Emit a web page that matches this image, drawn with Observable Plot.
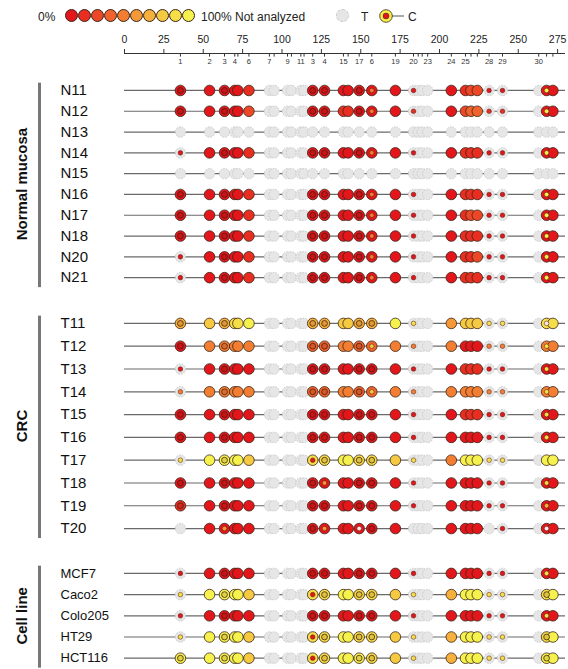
<!DOCTYPE html>
<html>
<head>
<meta charset="utf-8">
<script src="https://cdn.jsdelivr.net/npm/d3@7"></script>
<script src="https://cdn.jsdelivr.net/npm/@observablehq/plot@0.6"></script>
<style>
  body { margin: 0; background: #fff; font-family: "Liberation Sans", Arial, sans-serif; color: #222; }
  #legend { position: relative; width: 568px; height: 30px; }
  #legend .lab { position: absolute; top: 10px; font-size: 12px; line-height: 14px; }
  #legend .sw { position: absolute; top: 9px; width: 13px; height: 13px; border-radius: 50%; border: 0.8px solid #3a2418; box-sizing: border-box; }
  #legend .na { position: absolute; top: 9px; width: 13px; height: 13px; border-radius: 50%; background: #e6e6e6; border: 1px dashed #c9c9c9; box-sizing: border-box; }
  #legend svg { position: absolute; top: 7px; }
  #header, #body { display: block; }
</style>
</head>
<body>
<div id="legend"></div>
<div id="header"></div>
<div id="body"></div>
<script>
// CpG site positions (bp along the amplicon) and their printed labels
const sitePos = [35.5, 54, 63.5, 70, 72, 79, 92, 95, 103.5, 106, 112, 114, 119.5, 127,
  139, 142, 149, 157, 172, 183.5, 186.5, 189, 192.5, 207.5, 216.5, 220, 224, 231.5, 240, 263, 268, 272];
const siteLabels = ["1","2","3","4","","6","7","","9","","11","","3","4","15","","17","6","19","20",
  "","","23","24","25","","","28","29","30","",""];
const majorTicks = [0, 25, 50, 75, 100, 125, 150, 175, 200, 225, 250, 275];

// Sample groups
const groupNames = ["Normal mucosa", "CRC", "Cell line"];
const normalRows = ["N11","N12","N13","N14","N15","N16","N17","N18","N20","N21"];
const crcRows = ["T11","T12","T13","T14","T15","T16","T17","T18","T19","T20"];
const cellRows = ["MCF7","Caco2","Colo205","HT29","HCT116"];

// Methylation level per site: 0 (0%) .. 9 (100%), "-" = not analyzed
// Inner marker per site: digit = allele dot of that level, "o" = ring, "w" = pale dot, "." = none
const normalOuter = [
  "0 0 0 00 1 -- ---- 0 0 00 0 0 0 - --- 0 122 - - - 0 0",
  "0 0 0 00 2 -- ---- 0 0 11 0 0 0 - --- 0 233 - - - 0 0",
  "- - - -- - -- ---- - - -- - - - - --- - --- - - - - -",
  "- 0 0 00 1 -- ---- 0 0 00 0 0 0 - --- 0 111 - - - 0 0",
  "- - - -- - -- ---- - - -- - - - - --- - --- - - - - -",
  "0 0 0 00 1 -- ---- 0 0 00 0 0 0 - --- 0 111 - - - 0 0",
  "0 0 0 00 1 -- ---- 0 0 00 0 0 0 - --- 0 122 - - - 0 0",
  "0 0 0 00 1 -- ---- 0 0 00 0 0 0 - --- 0 111 - - - 0 0",
  "- 0 0 00 1 -- ---- 0 0 00 0 0 0 - --- 0 112 - - - 0 0",
  "- 0 0 00 1 -- ---- 0 0 00 0 0 0 - --- 0 111 - - - 0 0"
];
const normalInner = [
  "o . o .. . .. .... o o .. o 4 . 0 ... . ... 0 0 . 9 .",
  "o . o .. . .. .... o o .. o 4 . 1 ... . ... 1 1 . 9 .",
  ". . . .. . .. .... . . .. . . . . ... . ... . . . . .",
  "0 . o .. . .. .... o o .. o 4 . 0 ... . ... 0 0 . 9 .",
  ". . . .. . .. .... . . .. . . . . ... . ... . . . . .",
  "o . o .. . .. .... o o .. o 4 . 0 ... . ... 0 0 . 9 .",
  "o . o .. . .. .... o o .. o 4 . 0 ... . ... 0 0 . 9 .",
  "o . o .. . .. .... o o .. o 4 . 0 ... . ... 0 0 . 9 .",
  "0 . o .. . .. .... o o .. o 4 . 0 ... . ... 0 0 . 9 .",
  "0 . o .. . .. .... o o .. o 4 . 0 ... . ... 0 0 . 9 ."
];
const crcOuter = [
  "6 7 6 88 9 -- ---- 6 6 77 6 6 9 - --- 5 777 - - - 8 8",
  "0 4 4 44 4 -- ---- 3 3 44 3 3 4 - --- 4 000 - - - 4 4",
  "- 0 0 00 0 -- ---- 0 0 00 0 0 0 - --- 0 111 - - - 0 0",
  "- 4 4 44 4 -- ---- 3 3 44 3 3 4 - --- 4 444 - - - 4 4",
  "0 0 0 00 0 -- ---- 0 0 00 0 0 0 - --- 0 111 - - - 0 0",
  "0 0 0 00 0 -- ---- 0 0 00 0 0 0 - --- 0 000 - - - 0 0",
  "- 9 9 99 7 -- ---- 8 8 99 8 8 7 - --- 4 999 - - - 9 9",
  "0 0 0 00 0 -- ---- 0 0 00 0 0 0 - --- 0 000 - - - 0 0",
  "1 0 0 00 0 -- ---- 0 0 00 0 0 0 - --- 0 000 - - - 0 0",
  "- 0 0 00 0 -- ---- 0 0 00 0 0 0 - --- 0 000 - - - 0 0"
];
const crcInner = [
  "o . o .. . .. .... o o .. o o . 8 ... . ... 8 8 . w .",
  "o . o .. . .. .... o o .. o 7 . 4 ... . ... 4 4 . 8 .",
  "0 . o .. . .. .... o o .. o o . 0 ... . ... 0 0 . 8 .",
  "4 . o .. . .. .... o o .. o 7 . 4 ... . ... 4 4 . 8 .",
  "o . o .. . .. .... o o .. o o . 0 ... . ... 0 0 . 8 .",
  "o . o .. . .. .... o o .. o o . 0 ... . ... 0 0 . 8 .",
  "8 . o .. . .. .... 0 o .. o o . 8 ... . ... 8 8 . . .",
  "o . o .. . .. .... o 5 .. o o . 0 ... . ... 0 0 . 8 .",
  "o . o .. . .. .... o o .. o o . 0 ... . ... 0 0 . 6 .",
  ". . 5 .. . .. .... o 5 .. w o . . ... . ... . 0 . w ."
];
const cellOuter = [
  "- 0 0 00 0 -- ---- 0 0 00 0 0 0 - --- 0 000 - - - 0 0",
  "- 9 9 99 7 -- ---- 8 8 99 8 8 7 - --- 6 999 - - - 8 9",
  "- 0 0 00 0 -- ---- 0 0 00 0 0 0 - --- 0 000 - - - 0 0",
  "- 9 9 99 7 -- ---- 8 8 99 8 8 7 - --- 6 999 - - - 8 9",
  "9 9 9 99 7 -- ---- 8 8 99 9 8 7 - --- 6 999 - - - 9 9"
];
const cellInner = [
  "0 . o .. . .. .... o o .. o o . 0 ... . ... 0 0 . 8 .",
  "8 . o .. . .. .... 0 o .. o o . 8 ... . ... 8 8 . o .",
  "0 . o .. . .. .... o o .. o o . 0 ... . ... 0 0 . 8 .",
  "8 . o .. . .. .... 0 o .. o o . 8 ... . ... 8 8 . o .",
  "o . o .. . .. .... 0 o .. o o . 8 ... . ... 8 8 . o ."
];

// Vertical layout of the three groups, in row units
const groupStart = [0, 11.2, 23.22];
const groupPitch = [1, 1.096, 1.019];
const labelSize = [15, 15, 13];

const palette = d3.interpolateRgbBasis(["#e3161c", "#ea3a24", "#f0632c", "#f48b34", "#f6b23c", "#f5d545", "#f5f24d"]);
const levelColor = (l) => palette(l / 9);

// ---- legend ----
const legend = document.getElementById("legend");
function add(html) { legend.insertAdjacentHTML("beforeend", html); }
add(`<span class="lab" style="left:38px">0%</span>`);
for (let i = 0; i < 10; ++i) add(`<span class="sw" style="left:${65 + i * 13}px;background:${levelColor(i)}"></span>`);
add(`<span class="lab" style="left:201px">100% Not analyzed</span>`);
add(`<span class="na" style="left:336px"></span>`);
add(`<span class="lab" style="left:361px">T</span>`);
add(`<svg width="30" height="18" style="left:378px"><line x1="8" y1="9" x2="26" y2="9" stroke="#555" stroke-width="1"/><circle cx="8" cy="9" r="6.3" fill="${levelColor(9)}" stroke="#3a2418" stroke-width="0.8"/><circle cx="8" cy="9" r="3" fill="${levelColor(0)}" stroke="#3a2418" stroke-width="0.5"/></svg>`);
add(`<span class="lab" style="left:408px">C</span>`);

// ---- build tables ----
const groups = [
  {name: groupNames[0], rows: normalRows, outer: normalOuter, inner: normalInner},
  {name: groupNames[1], rows: crcRows, outer: crcOuter, inner: crcInner},
  {name: groupNames[2], rows: cellRows, outer: cellOuter, inner: cellInner}
];
const rows = [];
const circles = [];
const inners = [];
groups.forEach((g, gi) => {
  g.rows.forEach((name, i) => {
    const y = groupStart[gi] + i * groupPitch[gi];
    rows.push({name, y, size: labelSize[gi]});
    const o = g.outer[i].replace(/ /g, "");
    const n = g.inner[i].replace(/ /g, "");
    sitePos.forEach((pos, s) => {
      const code = o[s];
      const na = code === "-";
      const fill = na ? "#e6e6e6" : levelColor(+code);
      circles.push({pos, y, na, fill});
      const ic = n[s];
      if (ic === ".") return;
      if (ic === "o") inners.push({pos, y, kind: "ring", fill: d3.color(fill).darker(0.35).formatHex()});
      else if (ic === "w") inners.push({pos, y, kind: "dot", fill: "#fbe6ea"});
      else inners.push({pos, y, kind: "dot", fill: levelColor(+ic)});
    });
  });
});
const groupSpans = groups.map((g, gi) => {
  const first = groupStart[gi];
  const last = groupStart[gi] + (g.rows.length - 1) * groupPitch[gi];
  return {name: g.name, y1: first - 0.35, y2: last + 0.48, mid: (first + last) / 2};
});
const sites = sitePos.map((pos, i) => ({pos, label: siteLabels[i]}));

const xOpts = {domain: [0, 280]};

// ---- position axis with CpG ticks ----
const header = Plot.plot({
  width: 568, height: 40, marginLeft: 124, marginRight: 3, marginTop: 23, marginBottom: 9,
  x: {...xOpts, axis: null, label: null}, y: {domain: [0, 1], axis: null},
  style: {fontFamily: "Liberation Sans, Arial, sans-serif", color: "#222"},
  marks: [
    Plot.axisX({anchor: "top", ticks: majorTicks, tickSize: 5, tickPadding: 6, fontSize: 10.5, stroke: "#333", label: null}),
    Plot.ruleY([1], {x1: 0, x2: 280, stroke: "#333", strokeWidth: 1}),
    Plot.ruleX(sites, {x: "pos", y1: 1, y2: 0.55, stroke: "#333"}),
    Plot.text(sites, {x: "pos", y: 0, text: "label", fontSize: 7.5, fill: "#333"})
  ]
});
document.getElementById("header").append(header);

// ---- methylation rows ----
const body = Plot.plot({
  width: 568, height: 599, marginLeft: 124, marginRight: 3, marginTop: 0, marginBottom: 0,
  x: {...xOpts, axis: null},
  y: {domain: [-0.96, 27.84], range: [0, 599], axis: null},
  color: {type: "identity"},
  style: {fontFamily: "Liberation Sans, Arial, sans-serif", color: "#111"},
  marks: [
    Plot.ruleY(rows, {y: "y", x1: 0, x2: 280, stroke: "#6a6a6a", strokeWidth: 1.2}),
    Plot.dot(circles.filter(d => d.na), {x: "pos", y: "y", r: 5.2, fill: "#e6e6e6", stroke: "#c6c6c6", strokeWidth: 0.9, strokeDasharray: "1.6,1.2"}),
    Plot.dot(circles.filter(d => !d.na), {x: "pos", y: "y", r: 5.3, fill: "fill", stroke: "#3a2418", strokeWidth: 0.8}),
    Plot.dot(inners.filter(d => d.kind === "ring"), {x: "pos", y: "y", r: 2.9, fill: "fill", stroke: "#4a1a10", strokeWidth: 0.9, strokeOpacity: 0.85}),
    Plot.dot(inners.filter(d => d.kind === "dot"), {x: "pos", y: "y", r: 2.3, fill: "fill", stroke: "#4a1a10", strokeWidth: 0.5}),
    Plot.text(rows, {x: () => 0, y: "y", text: "name", fontSize: "size", dx: -64, textAnchor: "start", fill: "#111"}),
    Plot.ruleX(groupSpans, {x: () => 0, y1: "y1", y2: "y2", dx: -85, stroke: "#777", strokeWidth: 3}),
    Plot.text(groupSpans, {x: () => 0, y: "mid", text: "name", rotate: -90, dx: -102, fontSize: 15, fontWeight: "bold", fill: "#111"})
  ]
});
document.getElementById("body").append(body);
</script>
</body>
</html>
